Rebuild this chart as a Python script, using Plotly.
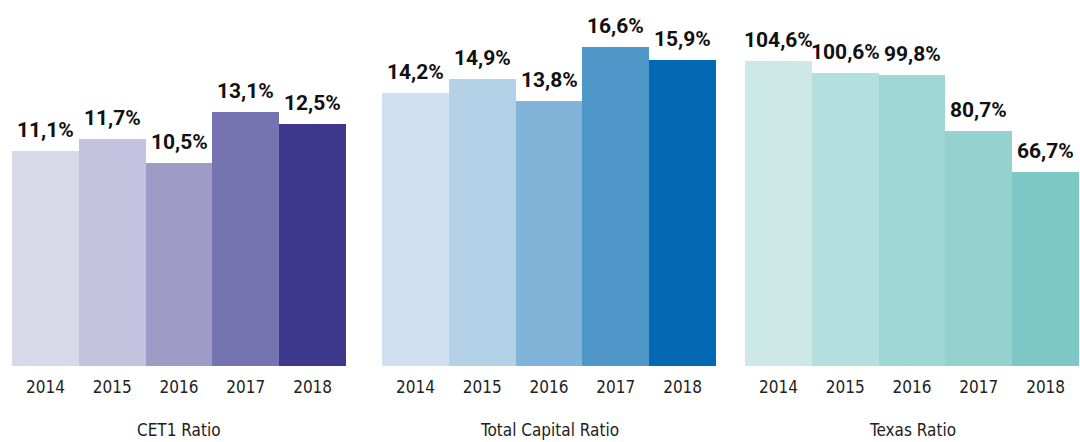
import plotly.graph_objects as go
from plotly.subplots import make_subplots

years = ["2014", "2015", "2016", "2017", "2018"]
cet1 = [11.1, 11.7, 10.5, 13.1, 12.5]
total_capital = [14.2, 14.9, 13.8, 16.6, 15.9]
texas = [104.6, 100.6, 99.8, 80.7, 66.7]
panel_titles = ["CET1 Ratio", "Total Capital Ratio", "Texas Ratio"]

cet1_colors = ["#d9d8e8", "#c3c3df", "#9e9bc6", "#7674b0", "#3d388b"]
tcr_colors = ["#cfe1f0", "#b4d2e7", "#82b4da", "#4f96c9", "#0369b5"]
texas_colors = ["#cce9e8", "#b3dfde", "#9fd6d6", "#94d1cf", "#7dc8c5"]

series = [cet1, total_capital, texas]
colors = [cet1_colors, tcr_colors, texas_colors]
domains = [[12 / 1080, 346 / 1080], [382 / 1080, 716 / 1080], [745 / 1080, 1079 / 1080]]
yranges = [[0, 18.9], [0, 19.03], [0, 125.7]]

NARROW = "DejaVu Sans Condensed, Liberation Sans Narrow, Roboto, sans-serif"
BOLD = "Roboto, Arial, sans-serif"

fig = make_subplots(rows=1, cols=3)
for i, (vals, cols) in enumerate(zip(series, colors)):
    xname = "x" if i == 0 else f"x{i + 1}"
    yname = "y" if i == 0 else f"y{i + 1}"
    fig.add_trace(go.Bar(
        x=years, y=vals, marker=dict(color=cols, line=dict(width=0)),
        showlegend=False, hoverinfo="skip",
    ), row=1, col=i + 1)
    fig.update_xaxes(
        type="category", domain=domains[i], range=[-0.5, len(years) - 0.5],
        showgrid=False, zeroline=False,
        showline=False, ticks="outside", ticklen=6, tickcolor="rgba(0,0,0,0)",
        tickfont=dict(family=NARROW, size=17, color="#222222"),
        row=1, col=i + 1,
    )
    fig.update_yaxes(
        range=yranges[i], visible=False, showgrid=False, zeroline=False,
        row=1, col=i + 1,
    )
    for j, v in enumerate(vals):
        # x given as category index (years are numeric-looking strings)
        fig.add_annotation(
            x=j, y=v, xref=xname, yref=yname,
            text="<b>" + f"{v:.1f}%".replace(".", ",") + "</b>",
            showarrow=False, yanchor="bottom", yshift=7,
            font=dict(family=BOLD, size=21, color="#111111"),
        )
    fig.add_annotation(
        x=0.5, y=-0.175, xref=xname + " domain", yref="paper",
        text=panel_titles[i], showarrow=False, yanchor="middle",
        font=dict(family=NARROW, size=17, color="#222222"),
    )

fig.update_layout(
    width=1080, height=442, bargap=0,
    margin=dict(l=0, r=0, t=0, b=76),
    paper_bgcolor="white", plot_bgcolor="white",
)
fig.write_html("out.html", config={"displayModeBar": False},
               post_script="document.body.style.margin='0';")
